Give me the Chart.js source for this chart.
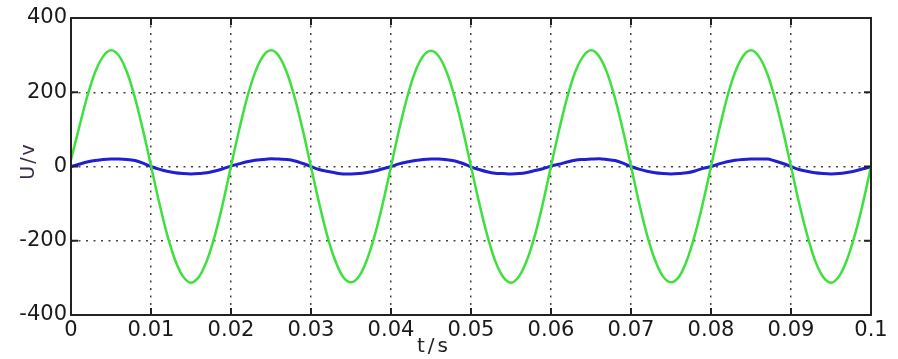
<!DOCTYPE html>
<html>
<head>
<meta charset="utf-8">
<script src="https://cdn.jsdelivr.net/npm/chart.js@4/dist/chart.umd.min.js"></script>
<style>
  html, body { margin: 0; padding: 0; background: #fff; }
</style>
</head>
<body>
<canvas id="waveChart" width="898" height="359"></canvas>
<script>
// sample times (s)
const times = [
  0, 0.001, 0.002, 0.003, 0.004, 0.005, 0.006, 0.007, 0.008, 0.009,
  0.010, 0.011, 0.012, 0.013, 0.014, 0.015, 0.016, 0.017, 0.018, 0.019,
  0.020, 0.021, 0.022, 0.023, 0.024, 0.025, 0.026, 0.027, 0.028, 0.029,
  0.030, 0.031, 0.032, 0.033, 0.034, 0.035, 0.036, 0.037, 0.038, 0.039,
  0.040, 0.041, 0.042, 0.043, 0.044, 0.045, 0.046, 0.047, 0.048, 0.049,
  0.050, 0.051, 0.052, 0.053, 0.054, 0.055, 0.056, 0.057, 0.058, 0.059,
  0.060, 0.061, 0.062, 0.063, 0.064, 0.065, 0.066, 0.067, 0.068, 0.069,
  0.070, 0.071, 0.072, 0.073, 0.074, 0.075, 0.076, 0.077, 0.078, 0.079,
  0.080, 0.081, 0.082, 0.083, 0.084, 0.085, 0.086, 0.087, 0.088, 0.089,
  0.090, 0.091, 0.092, 0.093, 0.094, 0.095, 0.096, 0.097, 0.098, 0.099,
  0.100
];

// green trace (large voltage)
const greenVoltage = [
  18, 104, 186, 253, 296, 313, 298, 254, 185, 98,
  2, -95, -182, -251, -296, -313, -297, -253, -184, -98,
  1, 97, 184, 253, 297, 313, 297, 252, 183, 96,
  -1, -97, -184, -252, -297, -312, -296, -251, -183, -97,
  0, 98, 185, 254, 297, 312, 296, 252, 184, 97,
  0, -96, -183, -253, -297, -313, -296, -252, -184, -98,
  1, 97, 184, 253, 296, 313, 297, 253, 184, 97,
  1, -97, -184, -252, -296, -312, -297, -252, -183, -97,
  0, 97, 185, 253, 297, 313, 296, 252, 183, 96,
  0, -97, -183, -253, -297, -313, -296, -251, -183, -98,
  0
];

// blue trace (small voltage)
const blueVoltage = [
  0, 6, 12, 16, 19, 20, 20, 19, 16, 9,
  0, -7, -13, -17, -19, -20, -19, -17, -12, -6,
  1, 7, 13, 17, 19, 21, 20, 19, 15, 8,
  0, -8, -13, -17, -20, -20, -19, -16, -12, -6,
  0, 7, 12, 16, 19, 20, 20, 18, 15, 8,
  -1, -8, -14, -18, -19, -20, -19, -16, -11, -6,
  1, 6, 12, 17, 19, 20, 21, 19, 16, 9,
  0, -7, -13, -17, -19, -20, -19, -17, -12, -5,
  0, 7, 13, 17, 19, 20, 20, 20, 15, 8,
  0, -8, -13, -17, -19, -20, -19, -16, -12, -6,
  -1
];

const xTickLabels = ["0", "0.01", "0.02", "0.03", "0.04", "0.05", "0.06", "0.07", "0.08", "0.09", "0.1"];
const yTickLabels = ["-400", "-200", "0", "200", "400"];

const toPoints = (vals) => vals.map((v, i) => ({ x: times[i], y: v }));

// full box, inward tick marks and the axis titles
const frame = {
  id: "frame",
  afterDraw(chart) {
    const { ctx, chartArea: a, scales } = chart;
    ctx.save();
    ctx.strokeStyle = "#222";
    ctx.lineWidth = 2;
    ctx.strokeRect(a.left, a.top, a.right - a.left, a.bottom - a.top);
    const len = 7;
    ctx.beginPath();
    scales.x.ticks.forEach((t) => {
      const px = scales.x.getPixelForValue(t.value);
      ctx.moveTo(px, a.top); ctx.lineTo(px, a.top + len);
      ctx.moveTo(px, a.bottom); ctx.lineTo(px, a.bottom - len);
    });
    scales.y.ticks.forEach((t) => {
      const py = scales.y.getPixelForValue(t.value);
      ctx.moveTo(a.left, py); ctx.lineTo(a.left + len, py);
      ctx.moveTo(a.right, py); ctx.lineTo(a.right - len, py);
    });
    ctx.stroke();

    ctx.fillStyle = "#222";
    ctx.font = "20px 'DejaVu Sans'";
    ctx.textAlign = "center";
    ctx.textBaseline = "middle";
    ctx.letterSpacing = "3px";
    ctx.fillText("t/s", a.left + 363, a.bottom + 32);

    ctx.translate(29, 162);
    ctx.rotate(-Math.PI / 2);
    ctx.fillStyle = "#3a2a4a";
    ctx.font = "19px 'DejaVu Sans'";
    ctx.letterSpacing = "2px";
    ctx.fillText("U/v", 1, 0);
    ctx.restore();
  },
};

new Chart(document.getElementById("waveChart"), {
  type: "line",
  data: {
    datasets: [
      {
        label: "green",
        data: toPoints(greenVoltage),
        borderColor: "#3ee03e",
        borderWidth: 2.5,
        pointRadius: 0,
        cubicInterpolationMode: "monotone",
      },
      {
        label: "blue",
        data: toPoints(blueVoltage),
        borderColor: "#2020d0",
        borderWidth: 3,
        pointRadius: 0,
        cubicInterpolationMode: "monotone",
      },
    ],
  },
  options: {
    responsive: false,
    animation: false,
    layout: { padding: { top: 18, right: 27, left: 0, bottom: 0 } },
    plugins: { legend: { display: false }, tooltip: { enabled: false } },
    scales: {
      x: {
        type: "linear",
        min: 0,
        max: 0.1,
        afterFit: (s) => { s.height = 44; },
        ticks: {
          stepSize: 0.01,
          padding: 3,
          color: "#1a1a1a",
          font: { family: "DejaVu Sans", size: 21 },
          maxRotation: 0,
          autoSkip: false,
          callback: (v, i) => xTickLabels[i],
        },
        grid: { color: "#444", lineWidth: 1.5, drawTicks: false },
        border: { display: false, dash: [2, 5.5] },
      },
      y: {
        min: -400,
        max: 400,
        afterFit: (s) => { s.width = 71; },
        ticks: {
          stepSize: 200,
          padding: 4,
          color: "#1a1a1a",
          font: { family: "DejaVu Sans", size: 21 },
          callback: (v, i) => yTickLabels[i],
        },
        grid: { color: "#444", lineWidth: 1.5, drawTicks: false },
        border: { display: false, dash: [2, 5.5] },
      },
    },
  },
  plugins: [frame],
});
</script>
</body>
</html>
